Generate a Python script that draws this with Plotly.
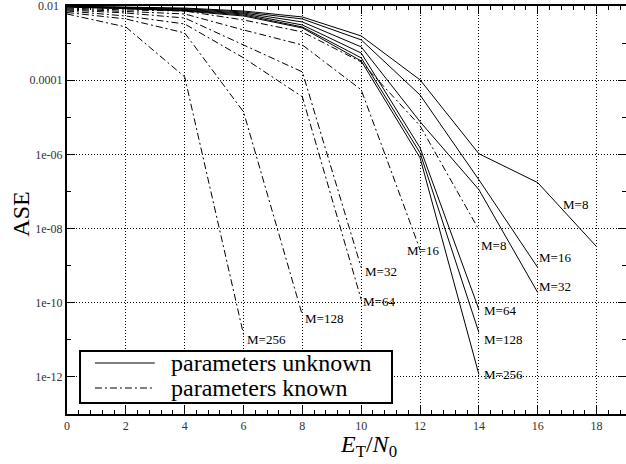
import math
import plotly.graph_objects as go

# ---------------- data ----------------
M_labels = ["M=8", "M=16", "M=32", "M=64", "M=128", "M=256"]

# parameters unknown (solid)
x_unk_8 = [0, 2, 4, 6, 8, 10, 12, 14, 16, 18]
y_unk_8 = [9.9e-3, 9.5e-3, 8.8e-3, 7.33e-3, 5.06e-3, 1.56e-3, 1.02e-4, 1.04e-6, 1.73e-7, 3.25e-9]
x_unk_16 = [0, 2, 4, 6, 8, 10, 12, 14, 16]
y_unk_16 = [9.9e-3, 9.3e-3, 8.46e-3, 6.9e-3, 4.47e-3, 1.22e-3, 4.0e-5, 2.07e-7, 8.9e-10]
x_unk_32 = [0, 2, 4, 6, 8, 10, 12, 14, 16]
y_unk_32 = [9.75e-3, 9.06e-3, 8.1e-3, 6.48e-3, 3.71e-3, 7.9e-4, 7.6e-6, 1.12e-7, 1.88e-10]
x_unk_64 = [0, 2, 4, 6, 8, 10, 12, 14]
y_unk_64 = [9.6e-3, 8.8e-3, 7.8e-3, 6.1e-3, 3.08e-3, 5.4e-4, 1.5e-6, 6.6e-11]
x_unk_128 = [0, 2, 4, 6, 8, 10, 12, 14]
y_unk_128 = [9.5e-3, 8.67e-3, 7.57e-3, 5.73e-3, 2.72e-3, 4.0e-4, 1.1e-6, 1.58e-11]
x_unk_256 = [0, 2, 4, 6, 8, 10, 12, 14]
y_unk_256 = [9.4e-3, 8.5e-3, 7.33e-3, 5.38e-3, 2.56e-3, 3.3e-4, 8.1e-7, 1.17e-12]

# parameters known (dash-dot)
x_kn_8 = [0, 2, 4, 6, 8, 10, 12, 14]
y_kn_8 = [8.8e-3, 7.8e-3, 7.33e-3, 4.2e-3, 2.0e-3, 3.1e-4, 5.9e-6, 9.3e-9]
x_kn_16 = [0, 2, 4, 6, 8, 10, 12]
y_kn_16 = [8.3e-3, 7.1e-3, 6.1e-3, 2.26e-3, 8.9e-4, 5.5e-5, 2.7e-9]
x_kn_32 = [0, 2, 4, 6, 8, 10]
y_kn_32 = [7.8e-3, 6.48e-3, 4.75e-3, 8.9e-4, 1.67e-4, 8.9e-10]
x_kn_64 = [0, 2, 4, 6, 8, 10]
y_kn_64 = [7.33e-3, 5.38e-3, 3.28e-3, 4.0e-4, 3.55e-5, 1.22e-10]
x_kn_128 = [0, 2, 4, 6, 8]
y_kn_128 = [6.68e-3, 4.47e-3, 1.88e-3, 1.4e-5, 4.6e-11]
x_kn_256 = [0, 2, 4, 6]
y_kn_256 = [6.1e-3, 2.72e-3, 1.23e-4, 1.39e-11]

x_ticks = [0, 2, 4, 6, 8, 10, 12, 14, 16, 18]
y_ticks = [1e-2, 1e-4, 1e-6, 1e-8, 1e-10, 1e-12]
y_ticktext = ["0.01", "0.0001", "1e-06", "1e-08", "1e-10", "1e-12"]
y_minor = [1e-3, 1e-5, 1e-7, 1e-9, 1e-11, 1e-13]

legend_names = ["parameters unknown", "parameters known"]

unknown = [(x_unk_8, y_unk_8), (x_unk_16, y_unk_16), (x_unk_32, y_unk_32),
           (x_unk_64, y_unk_64), (x_unk_128, y_unk_128), (x_unk_256, y_unk_256)]
known = [(x_kn_8, y_kn_8), (x_kn_16, y_kn_16), (x_kn_32, y_kn_32),
         (x_kn_64, y_kn_64), (x_kn_128, y_kn_128), (x_kn_256, y_kn_256)]

# label pixel offsets (style)
unk_offsets = [(-36, 42), (-1, 10), (-1, 6), (3, -1), (3, -7), (3, 0)]
kn_offsets = [(0, -16), (-15, -1), (2, -4), (0, -2), (1, -3), (1, -5)]

FONT = "Liberation Serif"
TICKFONT = dict(family=FONT, size=12, color="#333")
DASHDOT = "7px,3px,2px,3px"
fig = go.Figure()

for i, (xs, ys) in enumerate(unknown):
    fig.add_trace(go.Scatter(x=xs, y=ys, mode="lines",
                             line=dict(color="black", width=1),
                             name=legend_names[0], showlegend=False))
for i, (xs, ys) in enumerate(known):
    fig.add_trace(go.Scatter(x=xs, y=ys, mode="lines",
                             line=dict(color="black", width=1, dash=DASHDOT),
                             name=legend_names[1], showlegend=False))

for (xs, ys), lab, (dx, dy) in zip(unknown, M_labels, unk_offsets):
    fig.add_annotation(x=xs[-1], y=math.log10(ys[-1]), text=lab, showarrow=False,
                       xanchor="left", yanchor="middle", xshift=dx, yshift=dy,
                       font=dict(family=FONT, size=13, color="black"))
for (xs, ys), lab, (dx, dy) in zip(known, M_labels, kn_offsets):
    fig.add_annotation(x=xs[-1], y=math.log10(ys[-1]), text=lab, showarrow=False,
                       xanchor="left", yanchor="middle", xshift=dx, yshift=dy,
                       font=dict(family=FONT, size=13, color="black"))

# top tick label (plotly drops the label sitting on the range edge)
fig.add_annotation(xref="paper", yref="y", x=0, y=math.log10(y_ticks[0]),
                   text=y_ticktext[0], showarrow=False, xanchor="right",
                   yanchor="middle", xshift=-6, font=TICKFONT)

# legend (drawn box, sample lines and texts)
fig.add_shape(type="rect", xref="paper", yref="paper", x0=0.0233, x1=0.5814,
              y0=0.027, y1=0.1544, fillcolor="white",
              line=dict(color="black", width=2), layer="above")
for j, (yy, dash) in enumerate([(0.125, "solid"), (0.0637, DASHDOT)]):
    fig.add_shape(type="line", xref="paper", yref="paper", x0=0.050, x1=0.157,
                  y0=yy, y1=yy, line=dict(color="black", width=1, dash=dash),
                  layer="above")
    fig.add_annotation(xref="paper", yref="paper", x=0.182, y=yy, text=legend_names[j],
                       xanchor="left", yanchor="middle", showarrow=False,
                       font=dict(family=FONT, size=24, color="black"))

# axis titles
fig.add_annotation(xref="paper", yref="paper", x=0.54, y=-0.078, yanchor="middle",
                   text="<i>E</i><sub>T</sub>/<i>N</i><sub>0</sub>", showarrow=False,
                   font=dict(family=FONT, size=24, color="black"))
fig.add_annotation(xref="paper", yref="paper", x=-0.083, y=0.49, xanchor="center",
                   yanchor="middle", text="ASE", textangle=-90, showarrow=False,
                   font=dict(family=FONT, size=24, color="black"))

axis_common = dict(showline=True, linecolor="black", linewidth=2, mirror="allticks",
                   ticks="inside", ticklen=8, tickwidth=1.2, tickcolor="black",
                   showgrid=True, gridcolor="black", gridwidth=1, griddash="1px,2px",
                   zeroline=False, automargin=False, tickfont=TICKFONT)

fig.update_xaxes(range=[0, 19], tickmode="array", tickvals=x_ticks,
                 minor=dict(dtick=0.4, tick0=0, ticks="inside", ticklen=4,
                            tickcolor="black", tickwidth=1, showgrid=False),
                 **axis_common)
fig.update_yaxes(type="log", range=[-13, -2], tickmode="array", tickvals=y_ticks,
                 ticktext=y_ticktext,
                 minor=dict(tickmode="array", tickvals=y_minor, ticks="inside", ticklen=4,
                            tickcolor="black", tickwidth=1, showgrid=False),
                 **axis_common)

fig.update_layout(
    width=626, height=464,
    margin=dict(l=67, r=0, t=6, b=50),
    paper_bgcolor="white", plot_bgcolor="white",
    showlegend=False,
)

fig.write_html("out.html", config={"displayModeBar": False},
               post_script="document.body.style.margin='0';document.body.style.overflow='hidden';")
